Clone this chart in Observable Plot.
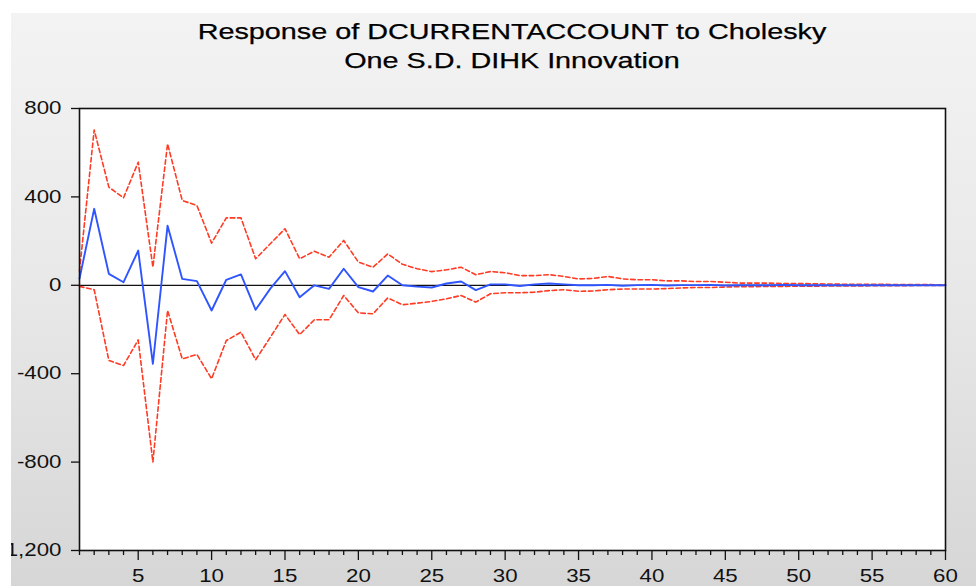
<!DOCTYPE html>
<html>
<head>
<meta charset="utf-8">
<script src="https://cdn.jsdelivr.net/npm/d3@7"></script>
<script src="https://cdn.jsdelivr.net/npm/@observablehq/plot@0.6"></script>
<style>
  html, body { margin: 0; padding: 0; background: #fff; width: 976px; height: 586px; overflow: hidden; }
  #panel {
    position: absolute; left: 11px; top: 13px; width: 965px; height: 573px; overflow: hidden;
    background: linear-gradient(#f3f3f3, #e9e9e9 45%, #d6d6d6);
  }
  .title {
    position: absolute; left: 501px; white-space: nowrap;
    font-family: "Liberation Sans", Arial, sans-serif; font-size: 22.3px; line-height: 22.3px;
    color: #000; transform: translateX(-50%) scaleX(1.29); transform-origin: center;
    -webkit-text-stroke: 0.25px #000;
  }
  #chart { position: absolute; left: -11px; top: 67px; }
</style>
</head>
<body>
<div id="panel">
  <div class="title" style="top:7.6px">Response of DCURRENTACCOUNT to Cholesky</div>
  <div class="title" style="top:37.4px">One S.D. DIHK Innovation</div>
  <div id="chart"></div>
</div>
<script>
// Impulse response of DCURRENTACCOUNT, periods 1..60
const response = [
  30, 346, 52, 14, 157, -355, 270, 29, 19, -114,
  25, 49, -111, -15, 64, -54, 0, -16, 75, -8,
  -28, 44, 0, -6, -10, 8, 17, -22, 4, 4,
  -3, 4, 8, 4, 0, 0, 2, -2, 1, 2,
  -1, 1, 1, 2, -1, 0, 1, 0, 2, 0,
  0, 1, 0, 0, 1, 0, 0, 0, 0, 0
];
// +/- 2 S.E. bands
const upperBand = [
  65, 703, 444, 396, 557, 82, 640, 384, 361, 191,
  305, 305, 120, 188, 256, 120, 154, 127, 203, 105,
  82, 142, 95, 75, 62, 70, 82, 48, 62, 57,
  44, 44, 48, 40, 29, 31, 40, 29, 25, 25,
  20, 20, 17, 17, 14, 10, 10, 10, 8, 8,
  7, 6, 5, 5, 4, 4, 3, 3, 3, 2
];
const lowerBand = [
  -5, -20, -340, -363, -247, -800, -114, -333, -313, -423,
  -250, -212, -337, -235, -132, -223, -156, -156, -46, -125,
  -129, -57, -88, -81, -73, -61, -46, -76, -38, -34,
  -34, -31, -24, -20, -27, -26, -20, -17, -17, -17,
  -15, -12, -10, -10, -8, -6, -6, -5, -5, -4,
  -4, -3, -3, -3, -2, -2, -2, -1, -1, -1
];

const xTicks = [5, 10, 15, 20, 25, 30, 35, 40, 45, 50, 55, 60];
const xMinorTicks = [
  1, 2, 3, 4, 6, 7, 8, 9, 11, 12, 13, 14, 16, 17, 18, 19, 21, 22, 23, 24,
  26, 27, 28, 29, 31, 32, 33, 34, 36, 37, 38, 39, 41, 42, 43, 44, 46, 47, 48, 49,
  51, 52, 53, 54, 56, 57, 58, 59
];
const yTicks = [-1200, -800, -400, 0, 400, 800];
const yTickLabels = ["-1,200", "-800", "-400", "0", "400", "800"];

const period = (d, i) => i + 1;
const value = d => d;
const bandStyle = {stroke: "#ff3b24", strokeWidth: 1.6, strokeDasharray: "4.5,2.8"};

const chart = Plot.plot({
  width: 976,
  height: 506,
  marginLeft: 79,
  marginRight: 31,
  marginTop: 28,
  marginBottom: 36,
  style: {
    background: "transparent",
    fontFamily: "'Liberation Sans', Arial, sans-serif",
    fontSize: "17.7px",
    color: "#111",
    overflow: "visible"
  },
  x: {domain: [1, 60]},
  y: {domain: [-1200, 800]},
  marks: [
    Plot.frame({fill: "white", stroke: null}),
    Plot.ruleY([0], {stroke: "#111", strokeWidth: 1.3}),
    Plot.line(upperBand, {x: period, y: value, ...bandStyle}),
    Plot.line(lowerBand, {x: period, y: value, ...bandStyle}),
    Plot.line(response, {x: period, y: value, stroke: "#2f55ff", strokeWidth: 1.9}),
    Plot.frame({stroke: "#111", strokeWidth: 1.6}),
    Plot.axisX(xMinorTicks, {anchor: "bottom", tickSize: 5, tickFormat: () => "", label: null, stroke: "#111", strokeWidth: 1.3}),
    Plot.axisX(xTicks, {anchor: "bottom", tickSize: 10, tickPadding: 9, label: null, stroke: "#111", strokeWidth: 1.3}),
    Plot.axisY(yTicks, {
      anchor: "left", tickSize: 8, tickPadding: 10, label: null, stroke: "#111", strokeWidth: 1.3,
      tickFormat: d => yTickLabels[yTicks.indexOf(d)]
    })
  ]
});

// widen the tick-label glyphs to the same proportions as the title
d3.select(chart).selectAll("g[aria-label$='tick label'] text").each(function () {
  const t = this.getAttribute("transform");
  if (t) {
    this.setAttribute("transform", t + " scale(1.26,1)");
  } else {
    const x = +this.getAttribute("x") || 0, y = +this.getAttribute("y") || 0;
    this.removeAttribute("x");
    this.removeAttribute("y");
    this.setAttribute("transform", `translate(${x},${y}) scale(1.26,1)`);
  }
});

document.getElementById("chart").appendChild(chart);
</script>
</body>
</html>
